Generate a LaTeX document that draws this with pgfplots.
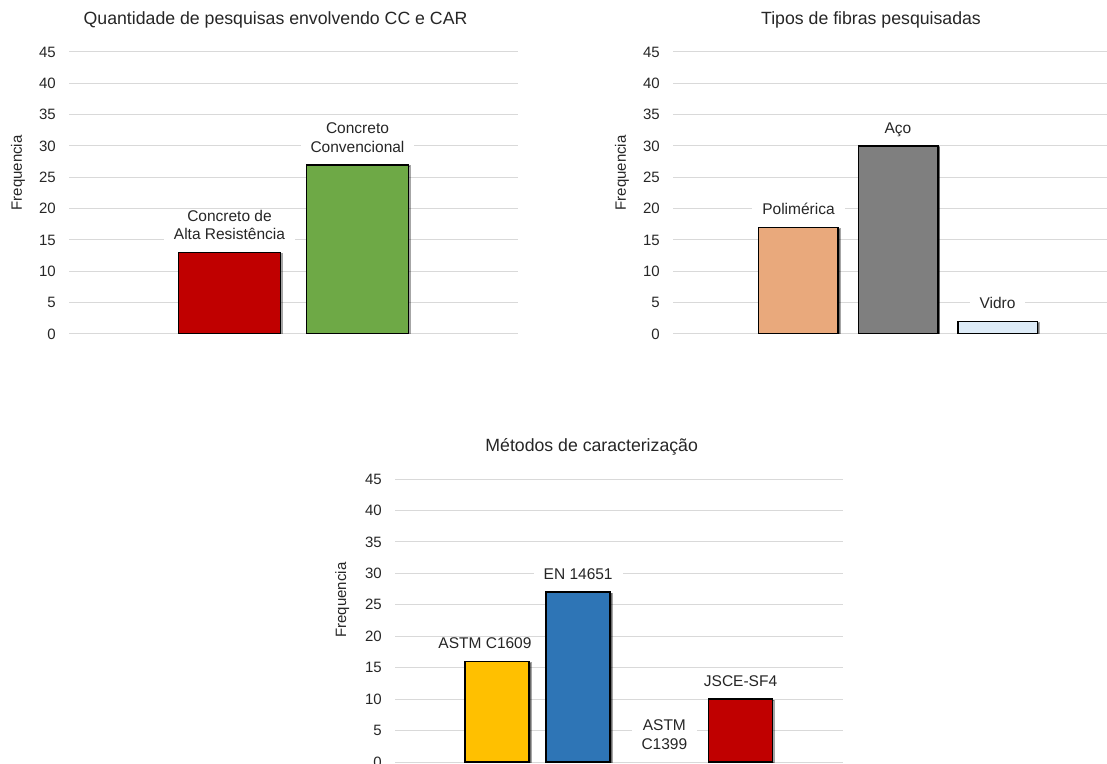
\documentclass[border=0pt]{standalone}
\usepackage{fontspec}
\setmainfont{Liberation Sans}
\usepackage{pgfplots}
\pgfplotsset{compat=1.18}
\usetikzlibrary{shadows}
\definecolor{gridc}{HTML}{D9D9D9}
\definecolor{txt}{HTML}{262626}
\definecolor{cred}{HTML}{C00000}
\definecolor{cgreen}{HTML}{6EA946}
\definecolor{corange}{HTML}{E9A97C}
\definecolor{cgray}{HTML}{7F7F7F}
\definecolor{clight}{HTML}{DDEBF7}
\definecolor{cyellow}{HTML}{FFC000}
\definecolor{cblue}{HTML}{2E75B6}
\pgfplotsset{
  mystyle/.style={
    scale only axis,
    anchor=south west,
    ymin=0, ymax=45, ytick={0,5,...,45},
    xtick=\empty,
    axis line style={draw=none},
    major tick length=0pt,
    ymajorgrids, grid style={gridc, line width=1pt},
    yticklabel style={font=\fontsize{15}{18}\selectfont, text=txt, anchor=east, inner sep=0pt, xshift=-13pt},
    /pgf/number format/assume math mode=true,
    ylabel={Frequencia},
    ylabel style={font=\fontsize{15}{18}\selectfont, text=txt},
    title style={font=\fontsize{17.7}{21}\selectfont, text=txt, anchor=center},
    every node near coord/.append style={font=\fontsize{15.5}{18.5}\selectfont, text=txt, fill=white, align=center, anchor=south, inner xsep=10pt, inner ysep=1pt, text depth=0pt, yshift=11pt},
  },
  mybar/.style 2 args={ybar, bar shift=0pt, fill=#1, draw=black, line width=1.5pt, nodes near coords={#2}},
  shbar/.style={drop shadow={shadow xshift=1.8pt, shadow yshift=-1.2pt, opacity=0.35, fill=black}},
}
\begin{document}
\begin{tikzpicture}
\useasboundingbox (0,0) rectangle (1107pt,763pt);
\clip (0,0) rectangle (1107pt,763pt);
\begin{axis}[mystyle, at={(69pt,429pt)}, width=449pt, height=282pt,
  xmin=-0.254, xmax=3.254, bar width=102pt,
  title={Quantidade de pesquisas envolvendo CC e CAR},
  title style={at={(axis description cs:0.46,1)}, yshift=26pt},
  ylabel style={at={(axis description cs:-0.1136,0.571)}, anchor=center}]
\addplot[mybar={cred}{Concreto de\\Alta Resistência}, shbar] coordinates {(1,13)};
\addplot[mybar={cgreen}{Concreto\\Convencional}, shbar] coordinates {(2,27)};
\end{axis}
\begin{axis}[mystyle, at={(673pt,429pt)}, width=450pt, height=282pt,
  xmin=-0.261, xmax=4.261, bar width=79.5pt,
  title={Tipos de fibras pesquisadas},
  title style={at={(axis description cs:0.44,1)}, yshift=26pt},
  ylabel style={at={(axis description cs:-0.1133,0.571)}, anchor=center}]
\addplot[mybar={corange}{Polimérica}, shbar] coordinates {(1,17)};
\addplot[mybar={cgray}{Aço}, shbar] coordinates {(2,30)};
\addplot[mybar={clight}{Vidro}, shbar] coordinates {(3,2)};
\end{axis}
\begin{axis}[mystyle, at={(395pt,1pt)}, width=448pt, height=283pt,
  xmin=-0.256, xmax=5.262, bar width=64pt,
  title={Métodos de caracterização},
  title style={at={(axis description cs:0.439,1)}, yshift=26pt},
  ylabel style={at={(axis description cs:-0.118,0.572)}, anchor=center}]
\addplot[mybar={cyellow}{ASTM C1609}, shbar, nodes near coords style={xshift=-12pt}] coordinates {(1,16)};
\addplot[mybar={cblue}{EN 14651}, shbar] coordinates {(2,27)};
\addplot[mybar={white}{ASTM\\C1399}, draw=none, fill=none, nodes near coords style={xshift=5pt}] coordinates {(3,0)};
\addplot[mybar={cred}{JSCE-SF4}, shbar] coordinates {(4,10)};
\end{axis}
\end{tikzpicture}
\end{document}
